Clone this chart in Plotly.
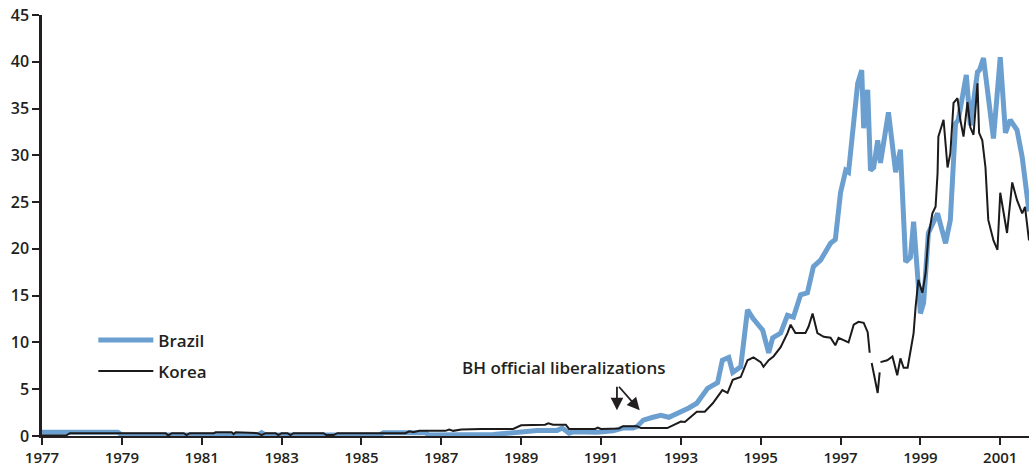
import plotly.graph_objects as go

# Brazil (decimal year, value)
brazil_year = [1977.00, 1978.90, 1979.00, 1982.40, 1982.50, 1982.60, 1985.45, 1985.55, 1986.60, 1986.70,
               1988.30, 1988.70, 1989.00, 1989.40, 1989.90, 1990.03, 1990.20, 1990.30, 1990.90, 1991.30,
               1991.55, 1991.80, 1991.90, 1992.06, 1992.30, 1992.50, 1992.70, 1992.90, 1993.06, 1993.20,
               1993.40, 1993.67, 1993.92, 1994.04, 1994.20, 1994.30, 1994.50, 1994.67, 1994.80, 1995.05,
               1995.20, 1995.30, 1995.50, 1995.67, 1995.82, 1996.00, 1996.17, 1996.32, 1996.50, 1996.75,
               1996.87, 1997.00, 1997.13, 1997.20, 1997.43, 1997.53, 1997.58, 1997.68, 1997.75, 1997.83,
               1997.93, 1998.00, 1998.20, 1998.38, 1998.50, 1998.63, 1998.75, 1998.83, 1999.00, 1999.08,
               1999.20, 1999.43, 1999.63, 1999.75, 1999.88, 1999.95, 2000.05, 2000.15, 2000.25, 2000.43,
               2000.48, 2000.58, 2000.83, 2001.00, 2001.13, 2001.25, 2001.42, 2001.55, 2001.72]
brazil_val = [0.40, 0.40, 0.10, 0.10, 0.35, 0.10, 0.10, 0.35, 0.35, 0.10,
              0.15, 0.30, 0.45, 0.60, 0.60, 0.85, 0.30, 0.45, 0.40, 0.55,
              0.85, 0.85, 1.00, 1.70, 2.00, 2.20, 2.00, 2.40, 2.60, 3.00,
              3.50, 5.10, 5.70, 8.10, 8.40, 6.80, 7.40, 13.5, 12.6, 11.3,
              8.90, 10.5, 11.0, 12.9, 12.7, 15.1, 15.3, 18.1, 18.8, 20.6,
              21.0, 26.0, 28.4, 28.2, 37.7, 39.1, 32.9, 37.0, 28.4, 28.7,
              31.6, 29.2, 34.6, 28.2, 30.6, 18.6, 19.1, 22.9, 13.1, 14.2,
              21.7, 23.8, 20.6, 23.1, 33.4, 33.8, 36.2, 38.6, 33.2, 38.9,
              39.1, 40.4, 31.8, 40.5, 32.4, 33.8, 32.7, 29.8, 24.0]

# Korea (None = break in the printed line)
korea_year = [1977.00, 1977.60, 1977.70, 1980.10, 1980.16, 1980.25, 1980.55, 1980.62, 1980.70, 1981.30,
              1981.35, 1981.75, 1981.80, 1981.85, 1982.40, 1982.50, 1982.60, 1982.85, 1982.92, 1983.00,
              1983.15, 1983.22, 1983.30, 1984.05, 1984.12, 1984.30, 1984.40, 1986.10, 1986.20, 1986.30,
              1986.45, 1987.10, 1987.20, 1987.30, 1987.50, 1988.00, 1988.80, 1989.00, 1989.60, 1989.68,
              1989.80, 1990.12, 1990.20, 1990.85, 1990.92, 1991.00, 1991.45, 1991.55, 1991.90, 1992.00,
              1992.66, 1993.00, 1993.10, 1993.40, 1993.60, 1993.80, 1994.04, 1994.17, 1994.30, 1994.50,
              1994.67, 1994.82, 1995.00, 1995.07, 1995.20, 1995.32, 1995.50, 1995.67, 1995.75, 1995.87,
              1996.12, 1996.20, 1996.30, 1996.42, 1996.58, 1996.75, 1996.87, 1996.95, 1997.20, 1997.33,
              1997.45, 1997.58, 1997.68, 1997.73, 1997.755, 1997.78, 1997.93, 1997.98, 1997.99, 1998.00,
              1998.17, 1998.30, 1998.42, 1998.50, 1998.58, 1998.68, 1998.83, 1998.88, 1998.95, 1999.05,
              1999.13, 1999.20, 1999.30, 1999.38, 1999.43, 1999.45, 1999.58, 1999.68, 1999.75, 1999.83,
              1999.93, 2000.00, 2000.08, 2000.18, 2000.25, 2000.33, 2000.43, 2000.47, 2000.55, 2000.63,
              2000.70, 2000.83, 2000.93, 2001.00, 2001.08, 2001.17, 2001.30, 2001.42, 2001.55, 2001.62,
              2001.72]
korea_val = [0.05, 0.05, 0.30, 0.30, 0.05, 0.30, 0.30, 0.10, 0.30, 0.30,
             0.40, 0.40, 0.20, 0.40, 0.30, 0.10, 0.30, 0.30, 0.10, 0.30,
             0.30, 0.10, 0.30, 0.30, 0.10, 0.10, 0.30, 0.30, 0.50, 0.40,
             0.55, 0.55, 0.70, 0.55, 0.70, 0.75, 0.75, 1.15, 1.20, 1.35,
             1.20, 1.20, 0.75, 0.75, 0.90, 0.75, 0.80, 1.05, 1.05, 0.85,
             0.85, 1.55, 1.50, 2.60, 2.60, 3.50, 4.90, 4.60, 6.00, 6.30,
             8.10, 8.40, 7.90, 7.40, 8.10, 8.50, 9.50, 11.0, 11.9, 11.0,
             11.0, 11.7, 13.1, 11.0, 10.6, 10.5, 9.70, 10.5, 10.0, 11.9,
             12.2, 12.1, 11.1, 8.90, None, 7.80, 4.60, 6.80, None, 7.90,
             8.10, 8.50, 6.50, 8.30, 7.30, 7.30, 11.0, 13.8, 16.7, 15.3,
             17.4, 21.3, 23.8, 24.5, 28.1, 32.0, 33.8, 28.7, 30.2, 35.6,
             36.1, 33.8, 32.0, 35.7, 33.0, 32.2, 37.7, 32.4, 31.6, 28.7,
             23.1, 20.9, 19.9, 26.0, 23.8, 21.7, 27.1, 25.2, 23.8, 24.5,
             20.9]

liberalization_dates = [1991.40, 1991.97]
liberalization_label = "BH official liberalizations"

year_ticks = list(range(1977, 2002, 2))
value_ticks = list(range(0, 46, 5))

ink = "#231f20"
font_family = "Open Sans"

fig = go.Figure()
fig.add_trace(
    go.Scatter(
        x=brazil_year,
        y=brazil_val,
        mode="lines",
        name="Brazil",
        legendgroup="b",
        line=dict(color="#6b9fcf", width=5),
    )
)
fig.add_trace(
    go.Scatter(
        x=korea_year,
        y=korea_val,
        mode="lines",
        name="Korea",
        legendgroup="k",
        connectgaps=False,
        line=dict(color="#1c1a1b", width=2),
    )
)

# text + two arrows pointing at the liberalization dates
fig.add_annotation(
    x=1990.06, y=7.3, text=liberalization_label, showarrow=False,
    font=dict(family=font_family, size=17, color=ink, weight=600),
)
for d, ax in zip(liberalization_dates, [0, -22]):
    fig.add_annotation(
        x=d, y=2.75, text="", showarrow=True, ax=ax, ay=-25,
        arrowhead=2, arrowsize=1.4, arrowwidth=1.8, arrowcolor=ink,
    )

fig.update_layout(
    width=1029,
    height=467,
    margin=dict(l=42, r=0, t=15, b=31),
    plot_bgcolor="white",
    paper_bgcolor="white",
    font=dict(family=font_family, color=ink),
    showlegend=True,
    legend=dict(
        x=0.052, y=0.27, xanchor="left", yanchor="top",
        traceorder="grouped", tracegroupgap=6, itemwidth=55,
        font=dict(family=font_family, size=17, color=ink, weight=600),
        bgcolor="rgba(0,0,0,0)",
    ),
)
fig.update_xaxes(
    range=[1977, 2001.72],
    tickvals=year_ticks,
    ticks="outside", ticklen=7, tickwidth=2, tickcolor=ink,
    showline=True, linecolor=ink, linewidth=2,
    showgrid=False, zeroline=False, automargin=False,
    tickfont=dict(family=font_family, size=15, color=ink, weight=600),
)
fig.update_yaxes(
    range=[0, 45],
    tickvals=value_ticks,
    ticks="outside", ticklen=7, tickwidth=2, tickcolor=ink,
    showline=True, linecolor=ink, linewidth=2.5,
    showgrid=False, zeroline=False, automargin=False,
    tickfont=dict(family=font_family, size=16, color=ink, weight=600),
)

# drop the default page margin so the figure sits at the window's top-left
fig.write_html(
    "out.html",
    config={"displayModeBar": False},
    post_script="document.body.style.margin='0';document.body.style.overflow='hidden';",
)
